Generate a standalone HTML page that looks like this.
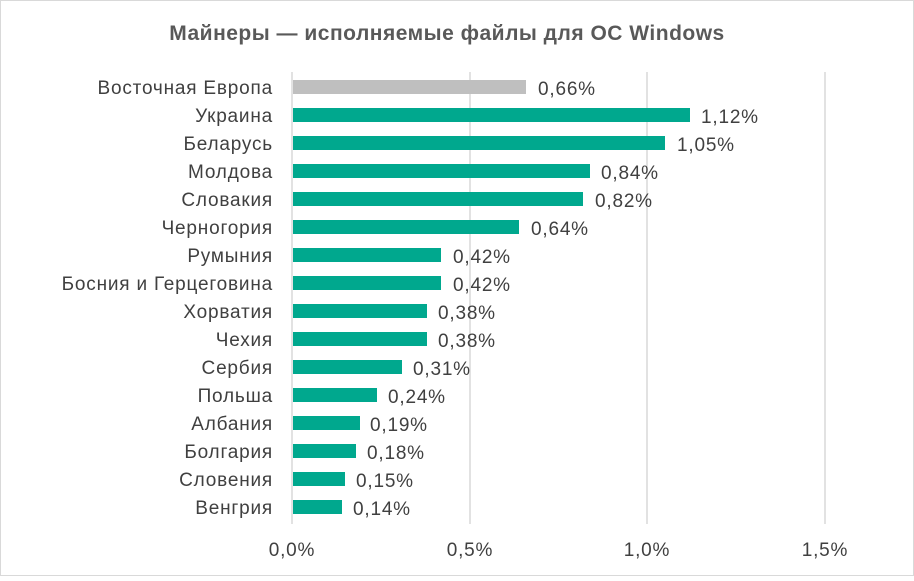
<!DOCTYPE html>
<html><head><meta charset="utf-8"><style>
body{margin:0;background:#fff;}
</style></head><body>
<svg width="914" height="576" xmlns="http://www.w3.org/2000/svg" font-family="Liberation Sans, sans-serif">
<rect x="0.5" y="0.5" width="913" height="575" fill="#fff" stroke="#d9d9d9"/>
<text x="447" y="40" text-anchor="middle" font-size="21" font-weight="bold" fill="#595959" letter-spacing="0.5">Майнеры — исполняемые файлы для ОС Windows</text>
<g stroke="#d9d9d9" stroke-width="1.5">
<line x1="292" y1="72" x2="292" y2="524"/>
<line x1="470" y1="72" x2="470" y2="524"/>
<line x1="647" y1="72" x2="647" y2="524"/>
<line x1="825" y1="72" x2="825" y2="524"/>
</g>
<g font-size="19" fill="#404040" text-anchor="middle" letter-spacing="0.8">
<text x="292" y="556">0,0%</text><text x="470" y="556">0,5%</text><text x="647" y="556">1,0%</text><text x="825" y="556">1,5%</text>
</g>
<g fill="#00a88e">
<rect x="293" y="80" width="233" height="14" fill="#bfbfbf"/>
<rect x="293" y="108" width="397" height="14"/>
<rect x="293" y="136" width="372" height="14"/>
<rect x="293" y="164" width="297" height="14"/>
<rect x="293" y="192" width="290" height="14"/>
<rect x="293" y="220" width="226" height="14"/>
<rect x="293" y="248" width="148" height="14"/>
<rect x="293" y="276" width="148" height="14"/>
<rect x="293" y="304" width="134" height="14"/>
<rect x="293" y="332" width="134" height="14"/>
<rect x="293" y="360" width="109" height="14"/>
<rect x="293" y="388" width="84" height="14"/>
<rect x="293" y="416" width="67" height="14"/>
<rect x="293" y="444" width="63" height="14"/>
<rect x="293" y="472" width="52" height="14"/>
<rect x="293" y="500" width="49" height="14"/>
</g>
<g font-size="19" fill="#404040" text-anchor="end" letter-spacing="0.8">
<text x="273" y="94">Восточная Европа</text>
<text x="273" y="122">Украина</text>
<text x="273" y="150">Беларусь</text>
<text x="273" y="178">Молдова</text>
<text x="273" y="206">Словакия</text>
<text x="273" y="234">Черногория</text>
<text x="273" y="262">Румыния</text>
<text x="273" y="290">Босния и Герцеговина</text>
<text x="273" y="318">Хорватия</text>
<text x="273" y="346">Чехия</text>
<text x="273" y="374">Сербия</text>
<text x="273" y="402">Польша</text>
<text x="273" y="430">Албания </text>
<text x="273" y="458">Болгария</text>
<text x="273" y="486">Словения</text>
<text x="273" y="514">Венгрия</text>
</g>
<g font-size="19" fill="#404040" letter-spacing="0.8">
<text x="538" y="95">0,66%</text>
<text x="701" y="123">1,12%</text>
<text x="677" y="151">1,05%</text>
<text x="601" y="179">0,84%</text>
<text x="595" y="207">0,82%</text>
<text x="531" y="235">0,64%</text>
<text x="453" y="263">0,42%</text>
<text x="453" y="291">0,42%</text>
<text x="438" y="319">0,38%</text>
<text x="438" y="347">0,38%</text>
<text x="413" y="375">0,31%</text>
<text x="388" y="403">0,24%</text>
<text x="370" y="431">0,19%</text>
<text x="367" y="459">0,18%</text>
<text x="356" y="487">0,15%</text>
<text x="353" y="515">0,14%</text>
</g>
</svg>
</body></html>
